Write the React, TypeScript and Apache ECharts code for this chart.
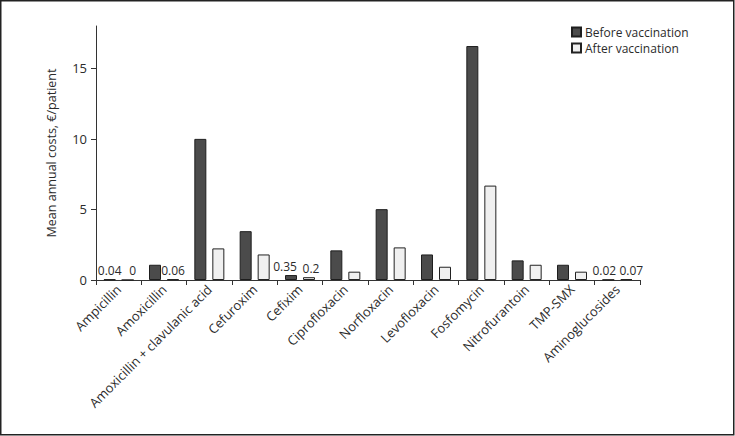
import React, { useEffect, useRef } from "react";
import * as echarts from "echarts";

const categories = [
  "Ampicillin",
  "Amoxicillin",
  "Amoxicillin + clavulanic acid",
  "Cefuroxim",
  "Cefixim",
  "Ciprofloxacin",
  "Norfloxacin",
  "Levofloxacin",
  "Fosfomycin",
  "Nitrofurantoin",
  "TMP-SMX",
  "Aminoglucosides",
];
const beforeValues = [0.04, 1.08, 10.0, 3.46, 0.35, 2.1, 5.02, 1.81, 16.58, 1.39, 1.08, 0.02];
const afterValues = [0, 0.06, 2.24, 1.81, 0.2, 0.59, 2.31, 0.94, 6.69, 1.08, 0.59, 0.07];
const yTicks = [0, 5, 10, 15];
const seriesNames = ["Before vaccination", "After vaccination"];

// values below this are annotated with their number
const LABEL_THRESHOLD = 0.5;
// horizontal nudges for small-value labels (styling only)
const beforeLabelShift: Record<string, number> = { Cefixim: -6, Aminoglucosides: -4 };
const afterLabelShift: Record<string, number> = { Ampicillin: 5, Cefixim: 2, Aminoglucosides: 5 };

const FONT = "'Open Sans', 'Noto Sans', sans-serif";
const TEXT = "#2b2b2b";

function buildData(values: number[], shifts: Record<string, number>) {
  return values.map((v, i) => {
    const show = v < LABEL_THRESHOLD;
    return {
      value: v,
      label: show
        ? {
            show: true,
            position: "top",
            distance: 3,
            offset: [shifts[categories[i]] || 0, 0],
            formatter: String(v),
            fontSize: 12,
            fontFamily: FONT,
            color: TEXT,
          }
        : { show: false },
    };
  });
}

export default function App() {
  const ref = useRef<HTMLDivElement>(null);
  useEffect(() => {
    document.body.style.margin = "0";
    if (!ref.current) return;
    const chart = echarts.init(ref.current, null, { renderer: "svg" });
    chart.setOption({
      animation: false,
      backgroundColor: "#ffffff",
      textStyle: { fontFamily: FONT, color: TEXT },
      graphic: [
        {
          type: "rect",
          shape: { x: 0.75, y: 0.75, width: 733, height: 434 },
          style: { fill: "none", stroke: "#222", lineWidth: 1.5 },
          silent: true,
        },
      ],
      legend: {
        orient: "vertical",
        left: 571,
        top: 26,
        padding: 0,
        itemWidth: 9,
        itemHeight: 9,
        itemGap: 4,
        icon: "rect",
        data: seriesNames,
        textStyle: { fontSize: 12, fontFamily: FONT, color: TEXT, padding: [0, 0, 0, -1] },
      },
      grid: { left: 96, right: 95, top: 26, bottom: 156, containLabel: false },
      xAxis: {
        type: "category",
        data: categories,
        boundaryGap: true,
        axisLine: { show: true, lineStyle: { color: "#333", width: 1 } },
        axisTick: { show: true, alignWithLabel: false, length: 5, lineStyle: { color: "#333" } },
        axisLabel: {
          interval: 0,
          rotate: 45,
          margin: 7,
          fontSize: 13,
          fontFamily: FONT,
          color: TEXT,
        },
      },
      yAxis: {
        type: "value",
        min: 0,
        max: 18,
        interval: 5,
        name: "Mean annual costs, €/patient",
        nameLocation: "middle",
        nameGap: 38,
        nameTextStyle: { fontSize: 12.5, fontFamily: FONT, color: TEXT },
        splitLine: { show: false },
        axisLine: { show: true, lineStyle: { color: "#333", width: 1 } },
        axisTick: { show: true, length: 5, lineStyle: { color: "#333" }, customValues: yTicks },
        axisLabel: {
          margin: 9,
          fontSize: 13,
          fontFamily: FONT,
          color: TEXT,
          customValues: yTicks,
        },
      },
      series: [
        {
          name: seriesNames[0],
          type: "bar",
          barWidth: 12,
          barGap: "50%",
          data: buildData(beforeValues, beforeLabelShift),
          itemStyle: { color: "#4b4b4b", borderColor: "#1e1e1e", borderWidth: 1 },
        },
        {
          name: seriesNames[1],
          type: "bar",
          barWidth: 12,
          data: buildData(afterValues, afterLabelShift),
          itemStyle: { color: "#f0f0f0", borderColor: "#222", borderWidth: 1 },
        },
      ],
    });
    return () => chart.dispose();
  }, []);
  return <div ref={ref} style={{ width: 735, height: 436 }} />;
}
